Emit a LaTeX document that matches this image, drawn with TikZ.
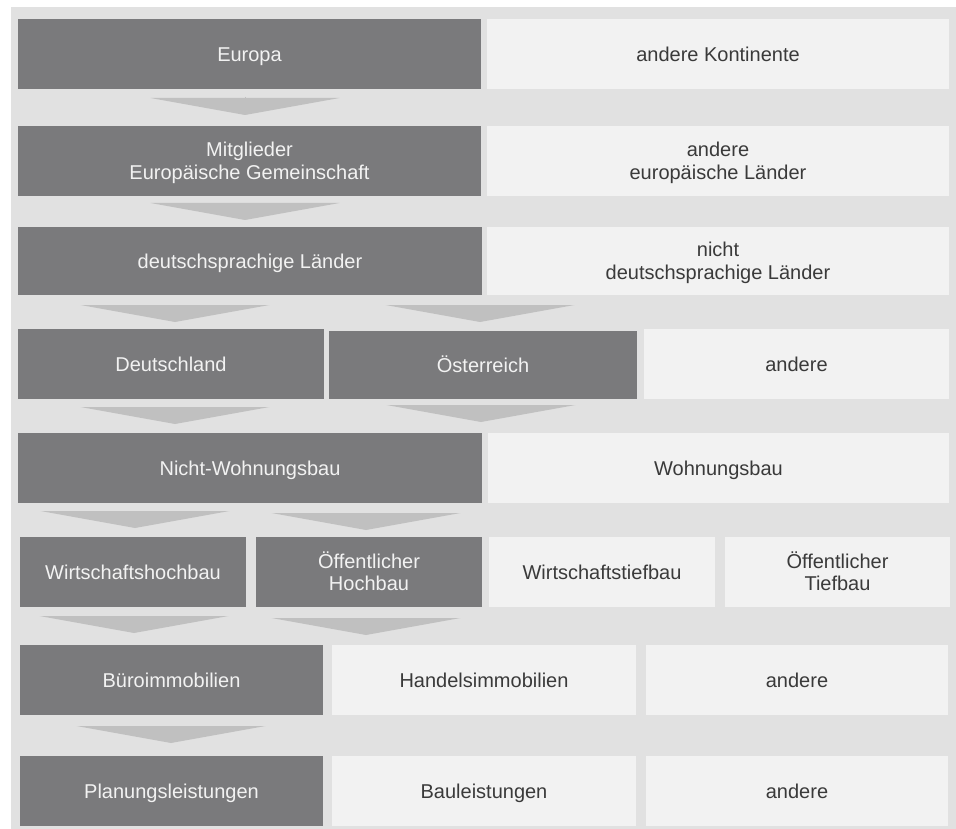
\documentclass[tikz,border=0pt]{standalone}
\usepackage{fontspec}
\setmainfont{Liberation Sans}
\usetikzlibrary{arrows.meta,calc}
\definecolor{bggray}{HTML}{E1E1E1}
\definecolor{darkbox}{HTML}{7A7A7C}
\definecolor{lightbox}{HTML}{F2F2F2}
\definecolor{arrowgray}{HTML}{C0C0C0}
\definecolor{darktext}{HTML}{3A3A3A}
\definecolor{lighttext}{HTML}{F2F2F2}
\tikzset{
  box/.style={rectangle, inner sep=0pt, outer sep=0pt, align=center,
    font=\fontsize{20pt}{22.5pt}\selectfont, text height=15pt, text depth=0pt},
  twoline/.style={text height=37pt, text depth=0pt},
  darkcell/.style={box, fill=darkbox, text=lighttext},
  lightcell/.style={box, fill=lightbox, text=darktext},
  blockarrow/.style={draw=arrowgray, line width=0.3pt,
    -{Triangle[length=17pt,width=189pt,line width=0pt]}, arrowgray},
}
\begin{document}
\begin{tikzpicture}[x=1pt,y=-1pt]
\useasboundingbox (0,0) rectangle (956,829);
\fill[bggray] (11,7) rectangle (956,829);
% row 1
\node[darkcell, minimum width=463pt, minimum height=70pt] (europa) at (249.5,54) {Europa};
\node[lightcell, minimum width=462pt, minimum height=70pt] (kont) at (718,54) {andere Kontinente};
% row 2
\node[darkcell, twoline, minimum width=463pt, minimum height=70pt] (eg) at (249.5,161) {Mitglieder\\Europäische Gemeinschaft};
\node[lightcell, twoline, minimum width=462pt, minimum height=70pt] (eul) at (718,161) {andere\\europäische Länder};
% row 3
\node[darkcell, minimum width=464pt, minimum height=68pt] (dtl) at (250,261) {deutschsprachige Länder};
\node[lightcell, twoline, minimum width=462pt, minimum height=68pt] (ndtl) at (718,261) {nicht\\deutschsprachige Länder};
% row 4
\node[darkcell, minimum width=306pt, minimum height=70pt] (de) at (171,364) {Deutschland};
\node[darkcell, minimum width=308pt, minimum height=68pt] (at) at (483,365) {Österreich};
\node[lightcell, minimum width=305pt, minimum height=70pt] (and1) at (796.5,364) {andere};
% row 5
\node[darkcell, minimum width=464pt, minimum height=70pt] (nwb) at (250,468) {Nicht-Wohnungsbau};
\node[lightcell, minimum width=461pt, minimum height=70pt] (wb) at (718.5,468) {Wohnungsbau};
% row 6
\node[darkcell, minimum width=226pt, minimum height=70pt] (whb) at (133,572) {Wirtschaftshochbau};
\node[darkcell, twoline, minimum width=226pt, minimum height=70pt] (ohb) at (369,572) {Öffentlicher\\Hochbau};
\node[lightcell, minimum width=226pt, minimum height=70pt] (wtb) at (602,572) {Wirtschaftstiefbau};
\node[lightcell, twoline, minimum width=225pt, minimum height=70pt] (otb) at (837.5,572) {Öffentlicher\\Tiefbau};
% row 7
\node[darkcell, minimum width=303pt, minimum height=70pt] (buero) at (171.5,680) {Büroimmobilien};
\node[lightcell, minimum width=304pt, minimum height=70pt] (handel) at (484,680) {Handelsimmobilien};
\node[lightcell, minimum width=302pt, minimum height=70pt] (and2) at (797,680) {andere};
% row 8
\node[darkcell, minimum width=303pt, minimum height=70pt] (plan) at (171.5,791) {Planungsleistungen};
\node[lightcell, minimum width=304pt, minimum height=70pt] (bau) at (484,791) {Bauleistungen};
\node[lightcell, minimum width=302pt, minimum height=70pt] (and3) at (797,791) {andere};
% arrows
\draw[blockarrow, shorten <=8pt, shorten >=11pt] ($(europa.south)+(-4.5,0)$) -- ($(europa.south |- eg.north)+(-4.5,0)$);
\draw[blockarrow, shorten <=7pt, shorten >=7pt] ($(eg.south)+(-4.5,0)$) -- ($(eg.south |- dtl.north)+(-4.5,0)$);
\draw[blockarrow, shorten <=11pt, shorten >=7pt] ($(de.north |- dtl.south)+(4,0)$) -- ($(de.north)+(4,0)$);
\draw[blockarrow, shorten <=10pt, shorten >=9pt] ($(at.north |- dtl.south)+(-3,0)$) -- ($(at.north)+(-3,0)$);
\draw[blockarrow, shorten <=8pt, shorten >=9pt] ($(de.south)+(4,0)$) -- ($(de.south |- nwb.north)+(4,0)$);
\draw[blockarrow, shorten <=6pt, shorten >=11pt] ($(at.south)+(-2,0)$) -- ($(at.south |- nwb.north)+(-2,0)$);
\draw[blockarrow, shorten <=9pt, shorten >=9pt] ($(whb.north |- nwb.south)+(2,0)$) -- ($(whb.north)+(2,0)$);
\draw[blockarrow, shorten <=10pt, shorten >=7pt] ($(ohb.north |- nwb.south)+(-3,0)$) -- ($(ohb.north)+(-3,0)$);
\draw[blockarrow, shorten <=10pt, shorten >=12pt] ($(whb.south)+(1,0)$) -- ($(whb.south |- buero.north)+(1,0)$);
\draw[blockarrow, shorten <=11pt, shorten >=10pt] ($(ohb.south)+(-3,0)$) -- ($(ohb.south |- buero.north)+(-3,0)$);
\draw[blockarrow, shorten <=12pt, shorten >=13pt] ($(buero.south)+(-0.5,0)$) -- ($(buero.south |- plan.north)+(-0.5,0)$);
\end{tikzpicture}
\end{document}
